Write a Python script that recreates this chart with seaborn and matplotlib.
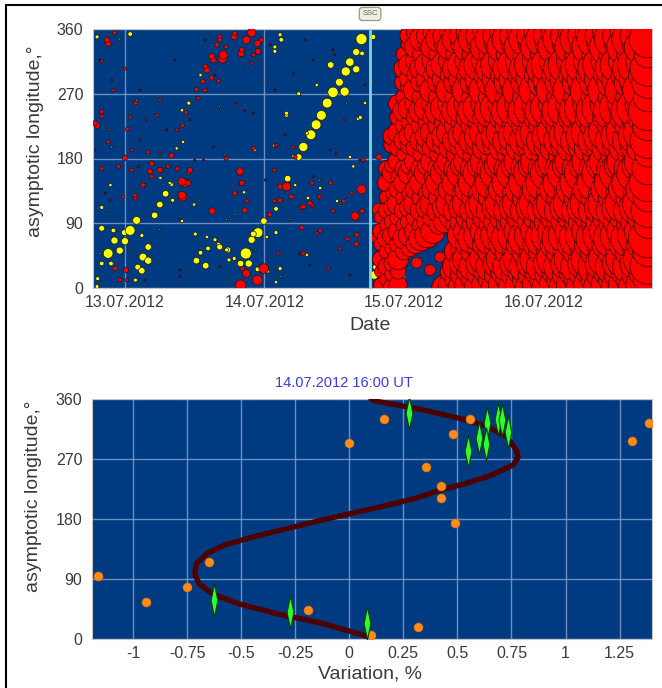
import numpy as np
import pandas as pd
import matplotlib
matplotlib.use("Agg")
import matplotlib.pyplot as plt
import matplotlib.transforms as mtransforms
from matplotlib.path import Path
import seaborn as sns

sns.set_theme(style="white")
plt.rcParams["font.family"] = ["Liberation Sans", "DejaVu Sans"]

# ---------------------------------------------------------------- data
START = pd.Timestamp("2012-07-13 00:00")
SSC_TIME = pd.Timestamp("2012-07-14 18:11")
day_tick_labels = ["13.07.2012", "14.07.2012", "15.07.2012", "16.07.2012"]

# station observations: hours from 13.07.2012 00:00 UT, asymptotic longitude, variation %
obs_hours = [
    # positive variations
    -4.8, 0.9, -4.0, -2.9, -1.8, -0.9, -2.0, 0.0, -0.1, 0.9, 2.0, 3.1, 4.0, 4.0, 5.1, 6.0, 7.0, 8.0,
    -4.0, -4.7, -4.8, 2.2, 2.9, -2.4, 1.8,
    12.3, 13.9, 13.0, 17.7, 19.9, 20.8, 21.3, 21.8, 22.9, 23.9, 26.0, 28.0, 29.9, 30.7, 32.0, 32.9,
    33.8, 34.8, 35.8, 36.9, 37.8, 38.0, 38.7, 39.8, 39.8, 40.7, 40.8, 35.4, 29.9, 27.8, 26.9, 25.8,
    22.1, 18.8, 22.8, 24.6, 38.7, 40.1,
    43.2, 42.9, 42.7,
    8.9, 11.0, 11.9, 12.1, 13.0, 14.3, 16.1, 8.2, 10.0, 20.5, 22.3, 25.7, 26.0, 26.0, 29.3, 31.5,
    33.6, 36.5, 40.5, 42.3, -2.5, -4.0, 2.9, 6.1, 9.8, 17.9,
    26.7, 25.8, 33.0, 27.8, 31.3, 9.8, 7.7, 14.1, 15.5, 16.3, 17.5, 29.0, 24.4, 26.7, 31.3, 39.3, 41.3,
    # negative variations
    -4.8, -4.0, -2.9, -1.8, 0.0, 1.1, 1.8, 0.2, -0.9, 3.3, 4.3, 6.2, 8.0, 9.0, 9.9, 10.3, 11.0, 9.9,
    14.1, 15.2, 16.1, 16.8, 16.3, 17.4, 18.8, 20.0, 21.8, 22.8, 22.1, 15.0, 19.9, 19.9, 21.0, 20.2,
    19.9, 22.8, 23.9, 22.1, 26.0, 27.8, 28.6, 29.3, 30.4, 32.2, 33.6, 30.4, 35.4, 37.6, 39.6, 40.7,
    40.8, 39.8, 30.7,
    -4.0, -2.9, 0.4, 1.8, 4.0, 10.5, 12.3, 13.4, 17.4, 25.7, 32.2, 35.8, 38.3, 24.9, 25.7,
    -3.1, -4.0, 0.0, -2.0, -4.0, -5.2, 0.9, 6.0, 5.5, 1.2, -1.1, 6.0, 4.6, 6.0, 7.4, 11.2, 9.8, 10.9,
    9.8, 3.1, 1.7, 4.6, -0.3, -1.7, 0.3, 14.9, 16.9, 15.8, 16.3, 13.8, 14.9, 13.8, 12.6, 8.9, 18.9,
    20.9, 20.1, 22.9, 23.5, 21.8, 19.8, 20.1, 18.9, 20.6, 26.7, 26.7, 26.1, 29.0, 30.7, 31.8, 33.5,
    33.0, 35.0, 37.0, 39.9, 39.0, 41.0, 26.4, 20.9,
    # just after the SSC
    43.7, 43.7, 43.6, 44.0, 44.8, 48.7, 50.6, 49.9, 48.1,
    50.2, 52.5, 54.2,
]
obs_lon = [
    349, 353, 83, 48, 66, 52, 80, 65, 77, 80, 94, 43, 38, 57, 101, 116, 131, 144,
    34, 13, 2, 29, 24, 34, 11,
    38, 31, 49, 53, 34, 48, 34, 67, 77, 93, 110, 152, 182, 196, 213, 227,
    240, 257, 272, 286, 273, 301, 314, 304, 328, 346, 326, 310, 270, 240, 345, 329,
    75, 41, 26, 23, 182, 235,
    29, 18, 349,
    194, 257, 116, 75, 296, 55, 61, 122, 203, 133, 192, 198, 77, 8, 143, 125,
    139, 121, 237, 287, 143, 112, 73, 153, 93, 39,
    352, 335, 282, 243, 215, 247, 146, 71, 67, 57, 53, 183, 71, 27, 46, 169, 257,
    226, 239, 340, 355, 181, 164, 125, 25, 11, 143, 162, 164, 184, 166, 127, 146, 160, 226,
    303, 317, 288, 319, 349, 335, 349, 326, 355, 340, 324, 107, 159, 146, 121, 27,
    4, 11, 27, 194, 198, 141, 127, 182, 112, 115, 80, 84, 146, 121, 100, 137,
    107, 61, 48,
    166, 203, 221, 257, 189, 244, 276, 287, 180, 164, 146, 107, 68, 102, 121,
    345, 315, 305, 275, 245, 229, 238, 261, 240, 192, 169, 187, 173, 164, 169, 164, 148, 146,
    129, 143, 129, 155, 127, 27, 11, 322, 324, 338, 345, 308, 292, 275, 264, 220, 354,
    345, 331, 329, 345, 312, 162, 146, 132, 108, 141, 122, 199, 196, 113, 118, 127,
    76, 27, 55, 74, 132, 178, 48, 20,
    182, 109, 70, 4, 16, 353, 344, 328, 301,
    35, 25, 43,
]
obs_var = [
    0.6, 0.7, 0.9, 1.5, 1.1, 1.1, 0.7, 1.1, 0.9, 1.5, 1.2, 1.2, 1.1, 1.0, 1.0, 1.0, 1.0, 0.6,
    0.7, 0.6, 0.6, 0.9, 1.0, 0.7, 0.6,
    1.0, 1.0, 0.7, 0.9, 1.0, 1.7, 1.1, 1.1, 1.5, 1.0, 0.7, 1.0, 1.0, 1.4, 1.5, 1.5,
    1.5, 1.5, 1.6, 1.2, 1.4, 1.4, 1.3, 1.1, 1.1, 1.7, 0.7, 1.0, 0.6, 0.6, 0.7, 0.6,
    0.9, 0.6, 0.7, 0.5, 0.5, 0.5,
    1.0, 1.3, 0.8,
    0.5, 0.6, 0.5, 0.6, 0.5, 0.7, 0.6, 0.6, 0.5, 0.5, 0.5, 0.5, 0.6, 0.5, 0.5, 0.5,
    0.5, 0.5, 0.6, 0.5, 0.5, 0.6, 0.6, 0.5, 0.5, 0.6,
    0.6, 0.6, 0.5, 0.6, 0.5, 0.5, 0.5, 0.5, 0.6, 0.9, 0.6, 0.5, 0.5, 0.6, 0.5, 0.5, 0.5,
    -0.9, -0.6, -0.9, -0.6, -0.8, -0.6, -0.6, -0.8, -0.6, -0.6, -0.8, -0.8, -0.8, -0.6, -1.4, -1.3, -0.6, -0.6,
    -0.9, -0.9, -0.6, -1.4, -0.7, -0.6, -0.9, -1.0, -1.3, -1.0, -0.6, -1.0, -0.7, -0.7, -0.6, -0.7,
    -1.6, -1.5, -1.5, -0.6, -0.6, -1.3, -0.7, -0.6, -0.7, -0.6, -0.6, -0.7, -0.6, -0.6, -1.3, -1.4,
    -0.7, -0.7, -0.6,
    -0.6, -0.6, -0.6, -0.6, -0.6, -0.6, -0.6, -0.7, -0.6, -0.6, -0.6, -0.6, -0.6, -0.7, -0.6,
    -0.8, -0.5, -0.5, -0.5, -0.6, -0.8, -0.5, -0.5, -0.5, -0.5, -0.6, -0.4, -0.8, -0.8, -0.6, -0.8, -1.2, -0.8,
    -1.2, -0.7, -0.6, -0.6, -0.5, -0.7, -0.5, -0.9, -1.3, -0.7, -0.6, -0.7, -0.7, -0.6, -0.6, -0.5, -0.7,
    -1.2, -0.8, -0.9, -0.7, -0.5, -1.1, -0.8, -0.7, -0.8, -0.8, -0.7, -0.5, -0.5, -0.7, -0.7, -0.6,
    -0.5, -0.5, -0.5, -0.7, -0.5, -0.6, -0.5, -1.2,
    -0.9, -2.0, -2.2, -1.6, -1.8, -1.9, -2.4, -2.0, -2.2,
    -1.7, -1.7, -1.6,
]

# stations with nearly zero variation
quiet_hours = [-4.3, -2.6, 2.6, 4.3, 6.0, 8.6, 11.2, 12.9, 15.5, 17.2, 20.6, 22.4, 25.0, 27.5,
               30.1, 31.8, 33.5, 36.1, 37.8, 39.6, 41.3, -2.6, 0.9, 9.5, 13.8, 18.9, 24.1, 28.4,
               35.3, 38.7, -0.9, 3.4, 12.0, 18.1, 25.8, 31.0, 37.0, 40.4, -5.2, 23.2,
               -5.5, -2.3, 2.0, 3.7, 7.2, -2.3, 2.6, 2.3, -3.4, -2.6, 9.5, 17.5, 13.5, 15.2, 16.3,
               19.2, 22.1, 24.4, 29.0, 32.4, 35.8, 38.1, 36.4, 32.4, 35.8, 30.1, 26.7, 16.3, 9.5, -4.3]
quiet_lon = [317, 220, 275, 164, 81, 317, 234, 122, 296, 185, 247, 53, 338, 213,
             268, 32, 150, 324, 234, 74, 282, 122, 53, 25, 345, 102, 150, 95,
             192, 18, 345, 11, 178, 11, 275, 345, 115, 178, 192, 317,
             326, 289, 261, 234, 220, 196, 206, 169, 132, 104, 95, 95, 178, 196, 252,
             257, 243, 289, 298, 317, 331, 257, 187, 155, 85, 48, 16, 30, 16, 48]
quiet_var = [-0.3, 0.3, -0.3, -0.3, 0.3, -0.3, -0.3, 0.3, -0.3, 0.3, -0.3, 0.3, -0.3, -0.3,
             0.3, -0.3, 0.3, -0.3, -0.3, 0.3, -0.3, -0.3, 0.3, -0.3, -0.3, 0.3, -0.3, 0.3,
             -0.3, -0.3, 0.3, -0.3, -0.3, 0.3, -0.3, -0.3, 0.3, -0.3, -0.3, 0.3,
             -0.3, -0.3, 0.3, -0.3, -0.3, 0.3, -0.3, -0.3, -0.3, 0.3, -0.3, 0.3, -0.3, -0.3, 0.3,
             -0.3, -0.3, 0.3, -0.3, -0.3, -0.3, 0.3, -0.3, -0.3, 0.3, -0.3, 0.3, -0.3, -0.3, 0.3]

# Forbush decrease after the SSC: hourly columns of strongly negative stations
mass_hours = list(range(44, 91))
mass_var = [-2.2, -2.4, -2.6, -2.8, -2.8, -3.0, -3.1, -3.2, -3.3, -3.4, -3.5, -3.6,   # 44-55
            -3.7, -3.8, -3.9, -4.0, -4.1, -4.2, -4.2, -4.3, -4.3, -4.4, -4.4, -4.5,   # 56-67
            -4.5, -4.6, -4.6, -4.7, -4.7, -4.8, -4.8, -4.8, -4.9, -4.9, -4.9, -5.0,   # 68-79
            -5.0, -5.0, -5.0, -5.0, -5.0, -5.0, -5.0, -5.0, -5.0, -5.0, -5.0]         # 80-90
mass_station_lons = [
    [4, 23, 40, 61, 79, 98, 117, 137, 154, 176, 195, 216, 237, 256, 275, 296, 316, 335, 356],
    [12, 30, 51, 69, 88, 108, 126, 146, 166, 186, 205, 226, 246, 265, 286, 305, 325, 346],
    [0, 19, 34, 55, 73, 92, 112, 131, 160, 170, 199, 211, 231, 250, 281, 291, 310, 340, 351],
]
mass_station_scale = [
    [1.0, 0.85, 1.15, 0.95, 1.1, 0.9, 1.2, 1.0, 0.8, 1.1, 0.95, 1.15, 0.9, 1.05, 1.2, 0.85, 1.0, 1.1, 0.9],
    [0.9, 1.1, 0.95, 1.2, 0.85, 1.05, 0.9, 1.15, 1.0, 0.8, 1.1, 0.95, 1.2, 0.9, 1.0, 1.1, 0.85, 1.15],
    [1.1, 0.9, 1.0, 0.85, 1.15, 0.95, 1.05, 0.8, 1.2, 0.9, 1.0, 1.1, 0.85, 1.2, 0.95, 1.05, 1.15, 0.9, 1.0],
]
mass_lon_top = {44: 110, 45: 170, 46: 215, 47: 260, 48: 330}
mass_gaps = {48: (0, 40), 49: (0, 45), 50: (0, 55), 51: (0, 65), 52: (0, 70), 53: (0, 72),
             54: (0, 75), 55: (10, 78), 56: (30, 80), 57: (55, 82)}

# 14.07.2012 16:00 UT longitude distribution
curve_lon = [0, 6, 23.5, 38.5, 53.5, 68.5, 83.5, 98.5, 113.5, 128.5, 141, 153.5, 166, 178.5,
             188.5, 198.5, 211, 223.5, 233.5, 246, 261, 272.5, 283.5, 303.5, 318.5, 328.5,
             343.5, 357, 360]
curve_var = [0.11, 0.065, -0.126, -0.342, -0.519, -0.637, -0.696, -0.715, -0.706, -0.657,
             -0.578, -0.44, -0.284, -0.126, 0.011, 0.148, 0.306, 0.423, 0.541, 0.659, 0.757,
             0.781, 0.773, 0.727, 0.639, 0.541, 0.345, 0.119, 0.10]
station_var = [-1.163, -0.941, -0.749, -0.651, -0.191, -0.003, 0.160, 0.101, 0.319, 0.354,
               0.423, 0.423, 0.478, 0.490, 0.559, 1.309, 1.388]
station_lon = [95, 55, 77.5, 116, 43.5, 294.5, 329.5, 6, 18.5, 258.5, 230, 212, 308, 174,
               329.5, 297.5, 324.5]
model_var = [-0.627, -0.272, 0.080, 0.274, 0.551, 0.600, 0.637, 0.632, 0.686, 0.706, 0.732]
model_lon = [58.5, 40, 24.5, 338.5, 282, 302, 323.5, 293, 330, 329, 310]
var_ticks = [-1, -0.75, -0.5, -0.25, 0, 0.25, 0.5, 0.75, 1, 1.25]
var_tick_labels = ["-1", "-0.75", "-0.5", "-0.25", "0", "0.25", "0.5", "0.75", "1", "1.25"]
lon_ticks = [0, 90, 180, 270, 360]

# ---------------------------------------------------------------- styling
BG = "#003a80"
GRID = "#7f9ccb"
TXT = "#3a3a3a"
PX_PER_PCT = 6.5  # circle diameter in pixels per 1 % of variation


def circle_area(v):
    return (np.abs(np.asarray(v, dtype=float)) * PX_PER_PCT * 0.72) ** 2


def frame(df_hours, df_lon, df_var):
    d = pd.DataFrame({"hours": df_hours, "lon": df_lon, "var": df_var})
    d["time"] = START + pd.to_timedelta(d["hours"], unit="h")
    d["sign"] = np.where(d["var"] > 0, "+", "-")
    return d


palette = {"+": "#ffff00", "-": "#ff0000"}

fig = plt.figure(figsize=(6.62, 6.88), dpi=100)
fig.patch.set_facecolor("white")
ax1 = fig.add_axes([93 / 662, 1 - 288 / 688, 559 / 662, 259 / 688])
ax2 = fig.add_axes([92 / 662, 1 - 639 / 688, 560 / 662, 240 / 688])

# ---------------------------------------------------------------- top panel
quiet = frame(quiet_hours, quiet_lon, quiet_var)
obs = frame(obs_hours, obs_lon, obs_var)

mass_rows = []
for i, (h, v) in enumerate(zip(mass_hours, mass_var)):
    top = mass_lon_top.get(h, 360)
    gap = mass_gaps.get(h)
    lons = mass_station_lons[i % 3]
    scales = mass_station_scale[i % 3]
    for lon, k in zip(lons, scales):
        if lon > top:
            continue
        if gap is not None and gap[0] <= lon <= gap[1]:
            continue
        mass_rows.append((h, lon, v * k))
mass = frame([r[0] for r in mass_rows], [r[1] for r in mass_rows], [r[2] for r in mass_rows])

ax1.set_facecolor(BG)
sns.scatterplot(data=quiet, x="time", y="lon", hue="sign", palette=palette,
                s=circle_area(quiet["var"]), edgecolor="#111111", linewidth=0.6,
                legend=False, ax=ax1, zorder=2)
sns.scatterplot(data=obs, x="time", y="lon", hue="sign", palette=palette,
                s=circle_area(obs["var"]), edgecolor="#1a1a1a", linewidth=0.5,
                legend=False, ax=ax1, zorder=3)
sns.scatterplot(data=mass, x="time", y="lon", hue="sign", palette=palette,
                s=circle_area(mass["var"]), edgecolor="#4a0000", linewidth=0.6,
                legend=False, ax=ax1, zorder=3)

ax1.axvline(SSC_TIME, color="#7fd6d6", lw=2.0, zorder=6)
blend = mtransforms.blended_transform_factory(ax1.transData, ax1.transAxes)
ax1.text(SSC_TIME, 1.058, "SSC", transform=blend, ha="center", va="center",
         fontsize=5.5, color="#666655",
         bbox=dict(boxstyle="round,pad=0.4", fc="#eeeee2", ec="#9a9a88", lw=0.9),
         clip_on=False, zorder=7)

day_ticks = pd.to_datetime(day_tick_labels, format="%d.%m.%Y")
ax1.set_xlim(START - pd.Timedelta(hours=5.5), START + pd.Timedelta(hours=90.7))
ax1.set_ylim(0, 360)
ax1.set_xticks(day_ticks)
ax1.set_xticklabels(day_tick_labels)
ax1.set_yticks(lon_ticks)
ax1.set_xlabel("Date", fontsize=14, color=TXT)
ax1.xaxis.set_label_coords(0.495, -0.112)
ax1.set_ylabel("asymptotic longitude,°", fontsize=14, color=TXT)
ax1.yaxis.set_label_coords(-0.087, 0.565)

# ---------------------------------------------------------------- bottom panel
ax2.set_facecolor(BG)
sns.lineplot(x=curve_var, y=curve_lon, sort=False, estimator=None, color="#4e0000",
             lw=3.8, ax=ax2, zorder=3)
sns.scatterplot(x=station_var, y=station_lon, color="#ff8c1a", s=42, edgecolor="#d96a00",
                linewidth=0.4, ax=ax2, zorder=4, legend=False)
diamond = Path([(0, -1), (0.21, 0), (0, 1), (-0.21, 0), (0, -1)],
               [Path.MOVETO, Path.LINETO, Path.LINETO, Path.LINETO, Path.CLOSEPOLY])
sns.scatterplot(x=model_var, y=model_lon, marker=diamond, color="#2cff2c", s=560,
                edgecolor="#0b3a0b", linewidth=0.8, ax=ax2, zorder=5, legend=False)

ax2.set_xlim(-1.19, 1.40)
ax2.set_ylim(0, 360)
ax2.set_xticks(var_ticks)
ax2.set_xticklabels(var_tick_labels)
ax2.set_yticks(lon_ticks)
ax2.set_xlabel("Variation, %", fontsize=14, color=TXT)
ax2.xaxis.set_label_coords(0.497, -0.112)
ax2.set_ylabel("asymptotic longitude,°", fontsize=14, color=TXT)
ax2.yaxis.set_label_coords(-0.09, 0.594)
fig.text(344 / 662, 1 - 383 / 688, "14.07.2012 16:00 UT", ha="center", va="center",
         fontsize=10.5, color="#3a3ae6")

# ---------------------------------------------------------------- common axis cosmetics
for ax in (ax1, ax2):
    ax.grid(True, color=GRID, lw=1.0, alpha=0.85)
    ax.set_axisbelow(True)
    ax.tick_params(axis="both", which="major", length=0, labelsize=11.5, labelcolor=TXT)
    ax.tick_params(axis="x", pad=5)
    ax.tick_params(axis="y", pad=7)
    for sp in ax.spines.values():
        sp.set_color("#c4c4c4")
        sp.set_linewidth(0.8)

# outer frame
fig.add_artist(plt.Line2D([6 / 662, 6 / 662], [0, 1 - 5 / 688], transform=fig.transFigure,
                          color="black", lw=1.5))
fig.add_artist(plt.Line2D([6 / 662, 1], [1 - 5 / 688, 1 - 5 / 688], transform=fig.transFigure,
                          color="black", lw=1.5))

fig.savefig("out.png", dpi=100, facecolor="white")
